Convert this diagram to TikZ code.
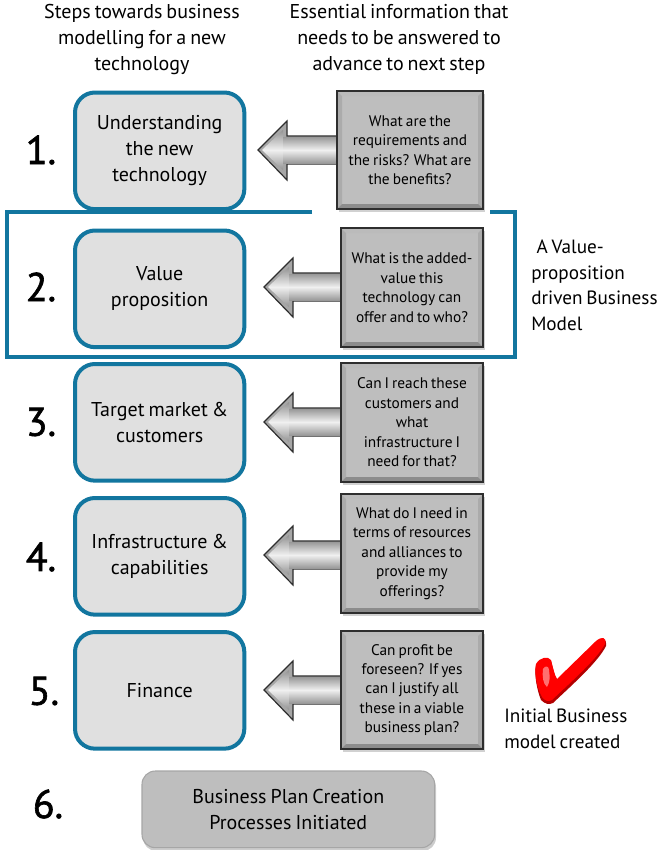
\documentclass[tikz,border=0pt]{standalone}
\usepackage{fontspec}
\setmainfont[WordSpace=0.75]{PT Sans}
\newfontfamily\numfont[FakeBold=1.6]{PT Sans}
\definecolor{teal1}{HTML}{12769F}
\definecolor{boxgray}{HTML}{BEBEBE}
\definecolor{stepfill}{HTML}{E0E0E0}
\definecolor{edgedark}{HTML}{2E2E2E}
\tikzset{
  x=0.75pt,y=-0.75pt,
  steprect/.style={draw=teal1,line width=3pt,fill=stepfill,rounded corners=15pt,minimum width=127pt,minimum height=87.5pt,align=center,font=\fontsize{15}{19.5}\selectfont,anchor=north west,inner sep=0pt,outer sep=0pt,execute at begin node=\vspace*{2pt}},
  numlabel/.style={font=\numfont\fontsize{30}{30}\selectfont,anchor=center,inner sep=0pt},
  headtext/.style={font=\fontsize{15}{19.2}\selectfont,align=center,inner sep=0pt},
  qtext/.style={font=\fontsize{11.5}{14.6}\selectfont,align=center,inner sep=0pt},
  sidetext/.style={font=\fontsize{14.4}{19.3}\selectfont,align=left,anchor=north west,inner sep=0pt},
  arrowbody/.style={draw=edgedark,line width=0.9pt,line join=miter,fill=gray!70},
}
% \qbox{name}{x0}{y0}{x1}{y1}{text}
\newcommand{\qbox}[6]{%
  \fill[black,opacity=.18] (#2+2,#3+3) rectangle (#4+2,#5+3);
  \fill[boxgray] (#2,#3) rectangle (#4,#5);
  \fill[gray!5!boxgray] (#2,#3) -- (#4,#3) -- (#4-5,#3+5) -- (#2+5,#3+5) -- cycle;
  \fill[gray!30!boxgray] (#2,#3) -- (#2+5,#3+5) -- (#2+5,#5-5) -- (#2,#5) -- cycle;
  \fill[gray!30!boxgray] (#4,#3) -- (#4-5,#3+5) -- (#4-5,#5-5) -- (#4,#5) -- cycle;
  \fill[gray!80!boxgray] (#2,#5) -- (#2+5,#5-5) -- (#4-5,#5-5) -- (#4,#5) -- cycle;
  \draw[edgedark,line width=0.9pt] (#2,#3) rectangle (#4,#5);
  \node[qtext] (#1) at ({(#2+#4)/2},{(#3+#5)/2}) {#6};
}
% \blockarrow{tip x}{tip y}{shaft end x}
\newcommand{\blockarrow}[3]{%
  \draw[arrowbody] (#1,#2) -- (#1+29,#2-29) -- (#1+29,#2-14) -- (#3,#2-14)
    -- (#3,#2+14) -- (#1+29,#2+14) -- (#1+29,#2+30) -- cycle;
  \shade[top color=gray!85,bottom color=gray!85,middle color=gray!12]
    (#1+4,#2) -- (#1+25,#2-20) -- (#1+25,#2+20) -- cycle;
  \shade[top color=gray!80,bottom color=gray!80,middle color=gray!12]
    (#1+25,#2-13) rectangle (#3,#2+13);
}
\begin{document}
\begin{tikzpicture}
\useasboundingbox (0,0) rectangle (660,850);
\fill[white] (0,0) rectangle (660,850);

\node[headtext] (h1) at (142,39.5) {Steps towards business\\modelling for a new\\technology};
\node[headtext] (h2) at (399,39.5) {Essential information that\\needs to be answered to\\advance to next step};

% frame around step 2
\draw[teal1,line width=2.3pt] (312,212) -- (7,212) -- (7,357) -- (515,357) -- (515,212) -- (490,212);

% block arrows
\blockarrow{258}{150}{340}
\blockarrow{264}{287}{344}
\blockarrow{264}{422}{344}
\blockarrow{264}{555}{344}
\blockarrow{264}{690}{344}

% question boxes
\qbox{q1}{337}{91}{483}{209}{What are the\\requirements and\\the risks? What are\\the benefits?}
\qbox{q2}{341}{228}{483}{347}{What is the added-\\value this\\technology can\\offer and to who?}
\qbox{q3}{341}{363}{483}{482}{Can I reach these\\customers and\\what\\infrastructure I\\need for that?}
\qbox{q4}{341}{494}{483}{613}{What do I need in\\terms of resources\\and alliances  to\\provide my\\offerings?}
\qbox{q5}{341}{631}{483}{749}{Can profit be\\foreseen? If yes\\can I justify all\\these in a viable\\business plan?}

% step boxes
\node[steprect] (s1) at (75,92.5) {Understanding\\the new\\technology};
\node[steprect] (s2) at (75,230.5) {Value\\proposition};
\node[steprect] (s3) at (75,364) {Target market \&\\customers};
\node[steprect] (s4) at (75,498) {Infrastructure \&\\capabilities};
\node[steprect] (s5) at (75,632) {Finance};

% numbers
\node[numlabel] (n1) at (41,150) {1.};
\node[numlabel] (n2) at (41,287) {2.};
\node[numlabel] (n3) at (41,422) {3.};
\node[numlabel] (n4) at (41,557) {4.};
\node[numlabel] (n5) at (44,691) {5.};
\node[numlabel] (n6) at (48,804) {6.};

% business plan box
\fill[black,opacity=.2,rounded corners=10pt] (143,774) rectangle (436,851);
\node[draw=gray!70,line width=0.8pt,fill=boxgray,rounded corners=10pt,minimum width=219.5pt,minimum height=57.5pt,anchor=north west,inner sep=0pt,outer sep=0pt,align=center,font=\fontsize{15}{19.2}\selectfont] (bp) at (142,771) {Business Plan Creation\\Processes Initiated};

% side labels
\node[sidetext] (side) at (531,239.5) {\hspace*{4pt}A Value-\\proposition\\driven Business\\Model};
\node[sidetext] (init) at (504,709) {Initial Business\\model created};

% check mark
\fill[red!70!black] (536,665) .. controls (540,658) and (548,657) .. (551,661)
  .. controls (553,668) and (554,675) .. (557,680) -- (596,642)
  .. controls (602,637) and (607,638) .. (606,646)
  .. controls (598,662) and (572,685) .. (553,703)
  .. controls (549,705) and (545,704) .. (541,700)
  .. controls (537,690) and (534,675) .. (536,665) -- cycle;
\fill[red] (536,664) .. controls (540,657) and (548,656) .. (551,660)
  .. controls (553,667) and (554,674) .. (557,679) -- (596,641)
  .. controls (602,636) and (607,637) .. (605,644)
  .. controls (597,659) and (571,682) .. (552,700)
  .. controls (548,702) and (545,701) .. (542,697)
  .. controls (537,688) and (534,674) .. (536,664) -- cycle;
\fill[red!45!white,opacity=.8] (543,669) .. controls (545,665) and (549,666) .. (549,670)
  .. controls (550,677) and (550,682) .. (547,687)
  .. controls (543,684) and (542,676) .. (543,669) -- cycle;
\end{tikzpicture}
\end{document}
